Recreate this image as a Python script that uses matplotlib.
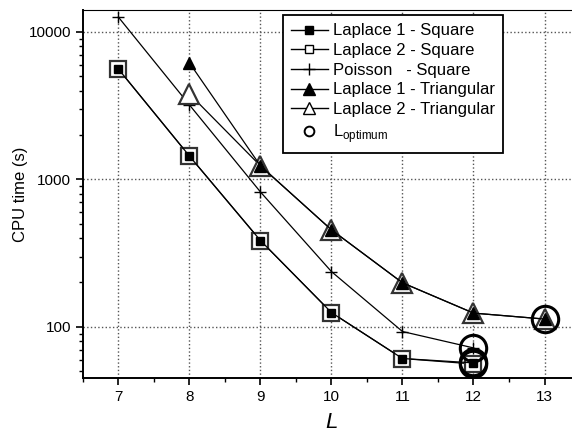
import numpy as np
import matplotlib.pyplot as plt
from matplotlib.lines import Line2D

plt.rcParams['font.family'] = ['Liberation Sans', 'DejaVu Sans']

# datos
L_sq = [7, 8, 9, 10, 11, 12]
lap1_sq = [5600, 1440, 385, 125, 61, 57]
lap2_sq = [5600, 1440, 385, 125, 61, 56]
poisson_sq = [12600, 3200, 822, 237, 93, 72]

L_tri = [8, 9, 10, 11, 12, 13]
lap1_tri = [6170, 1236, 455, 199, 124, 113]
lap2_tri = [3800, 1236, 455, 199, 124, 113]

L_opt = [12, 12, 12, 13]
t_opt = [72, 58, 56, 113]

etiquetas = ['Laplace 1 - Square', 'Laplace 2 - Square', 'Poisson   - Square',
             'Laplace 1 - Triangular', 'Laplace 2 - Triangular', 'L$_{\\mathregular{optimum}}$']

fig = plt.figure(figsize=(5.72, 4.33), dpi=100)
ax = fig.add_axes([0.145, 0.127, 0.869, 0.85])

lw = 0.9
ax.plot(L_sq, lap2_sq, '-', color='black', lw=lw, marker='s', ms=11, mfc='white',
        mec='#333333', mew=1.6, zorder=3)
ax.plot(L_sq, lap1_sq, '-', color='black', lw=lw, marker='s', ms=5.5, mfc='black',
        mec='black', zorder=4)
ax.plot(L_sq, poisson_sq, '-', color='black', lw=lw, marker='+', ms=9, mew=1.0, zorder=3)
ax.plot(L_tri, lap2_tri, '-', color='black', lw=lw, marker='^', ms=15, mfc='white',
        mec='#333333', mew=1.6, zorder=3)
ax.plot(L_tri, lap1_tri, '-', color='black', lw=lw, marker='^', ms=8, mfc='black',
        mec='black', zorder=4)
ax.plot(L_opt, t_opt, 'o', ms=19, mfc='none', mec='black', mew=2.2, zorder=5)

ax.set_yscale('log')
ax.set_xlim(6.5, 13.5)
ax.set_ylim(45, 14100)
ax.set_xticks(range(7, 14))
ax.set_xticks(np.arange(6.5, 13.6, 1.0), minor=True)
ax.set_yticks([100, 1000, 10000])
ax.set_yticklabels(['100', '1000', '10000'])
ax.tick_params(axis='both', which='major', direction='out', length=5, width=1.2,
               labelsize=11)
ax.tick_params(axis='both', which='minor', direction='out', length=3, width=1.0)
ax.grid(True, which='major', linestyle=':', color='#555555', lw=1.0)
for s in ['left', 'bottom', 'top']:
    ax.spines[s].set_linewidth(1.4)
ax.spines['top'].set_linewidth(0.8)

ax.set_xlabel('L', fontsize=16, style='italic', labelpad=6)
ax.set_ylabel('CPU time (s)', fontsize=12)
ax.yaxis.set_label_coords(-0.11, 0.5)

handles = [
    Line2D([], [], color='black', lw=1, marker='s', ms=6, mfc='black', mec='black'),
    Line2D([], [], color='black', lw=1, marker='s', ms=6, mfc='white', mec='black'),
    Line2D([], [], color='black', lw=1, marker='+', ms=8),
    Line2D([], [], color='black', lw=1, marker='^', ms=8, mfc='black', mec='black'),
    Line2D([], [], color='black', lw=1, marker='^', ms=8, mfc='white', mec='black'),
    Line2D([], [], ls='none', marker='o', ms=7, mfc='white', mec='black', mew=1.4),
]
leg = ax.legend(handles, etiquetas, loc='upper left', bbox_to_anchor=(0.402, 0.986),
                borderaxespad=0, fontsize=12, frameon=True, fancybox=False,
                handlelength=2.2, handletextpad=0.3, labelspacing=0.28,
                borderpad=0.5, framealpha=1)
leg.get_frame().set_edgecolor('black')
leg.get_frame().set_linewidth(1.3)

fig.savefig('out.png', dpi=100)
